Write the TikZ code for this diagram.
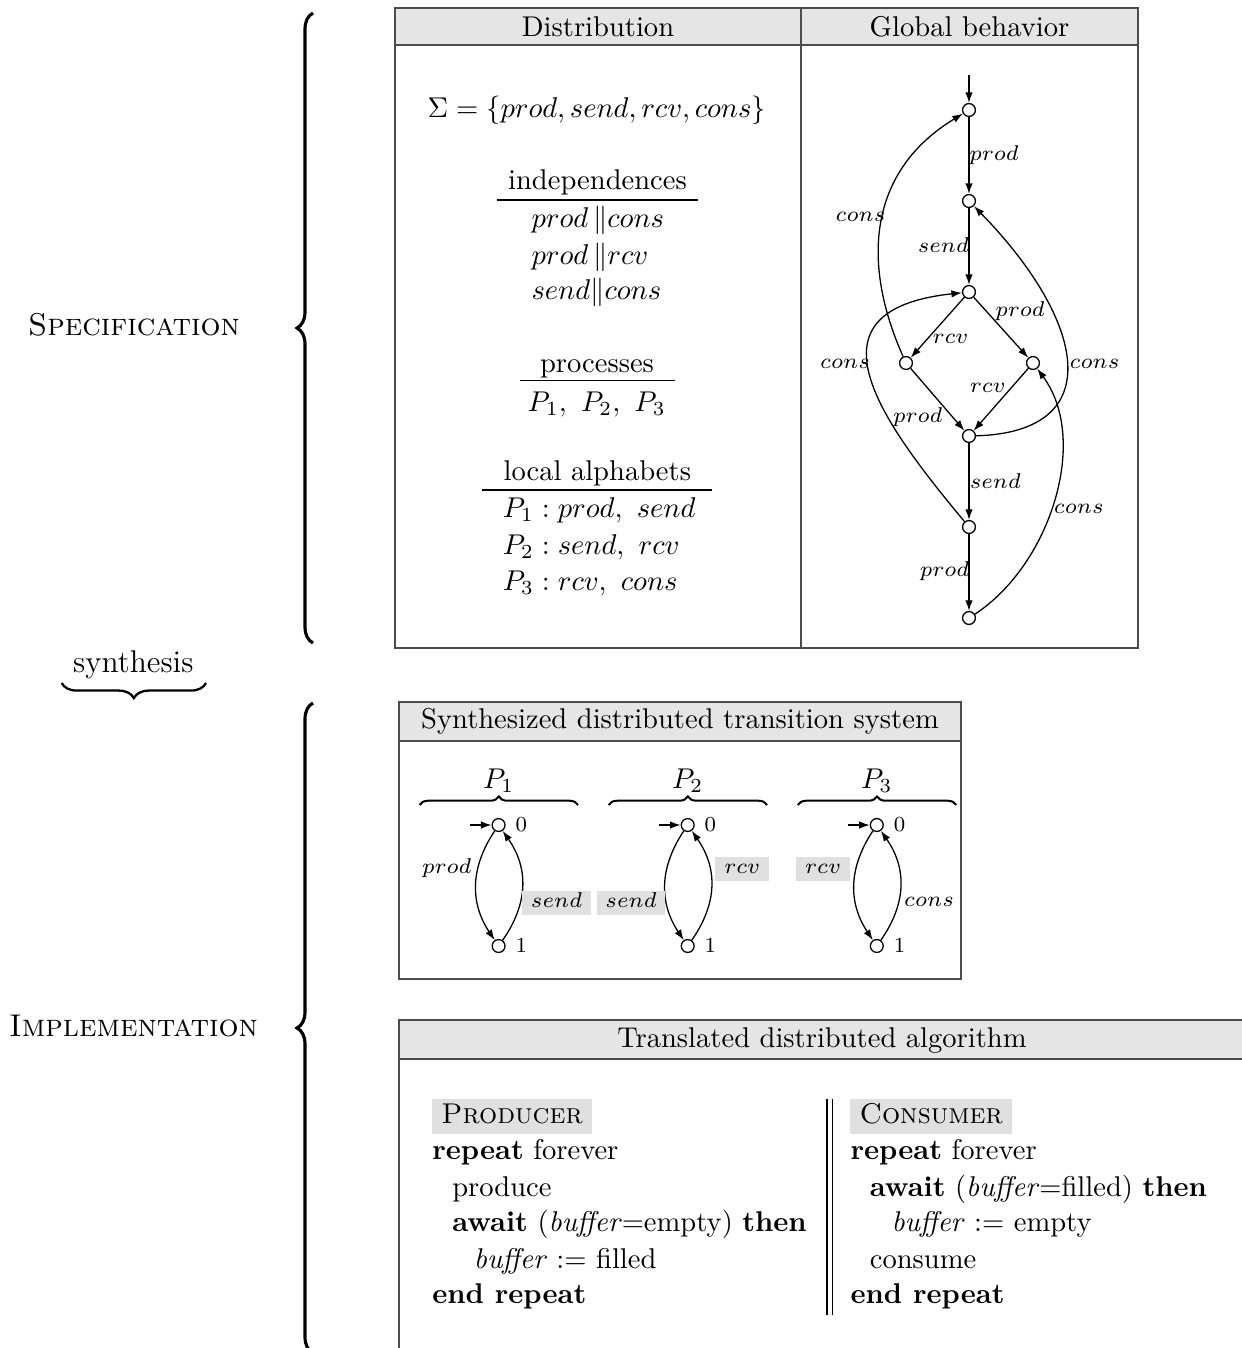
\RequirePackage{fix-cm}
\documentclass[tikz,border=0pt]{standalone}
\usetikzlibrary{decorations.pathreplacing,arrows.meta}
\begin{document}
\begin{tikzpicture}[x=0.35pt,y=-0.35pt,
  boxline/.style={draw=black!70,line width=0.5pt},
  headfill/.style={fill=black!10},
  txt/.style={inner sep=0pt,anchor=base},
  txtl/.style={inner sep=0pt,anchor=base west},
  sidetxt/.style={txt,font=\fontsize{11}{13}\selectfont},
  tabrule/.style={line width=0.4pt},
  stnode/.style={circle,draw,line width=0.45pt,minimum size=4.5pt,inner sep=0pt},
  lbl/.style={inner sep=0pt,anchor=base,font=\fontsize{7.5}{9}\selectfont},
  lblbox/.style={lbl,fill=black!12,inner xsep=3.1pt,inner ysep=0pt,text height=5.8pt,text depth=2.7pt},
  codebox/.style={txtl,fill=black!12,inner xsep=3.2pt,inner ysep=0pt,text height=8.4pt,text depth=3.85pt},
  trans/.style={line width=0.45pt,-{Latex[length=3.7pt,width=2.6pt]}},
  bigbrace/.style={decorate,decoration={brace,amplitude=5.6pt},line width=1.1pt},
  midbrace/.style={decorate,decoration={brace,amplitude=5.3pt},line width=0.8pt},
  smallbrace/.style={decorate,decoration={brace,amplitude=3pt},line width=0.7pt}]

\path[use as bounding box] (0,0) rectangle (1242,1348);
\clip (0,0) rectangle (1242,1348);

% ---------- left-hand labels and braces ----------
\node[sidetxt] (spec) at (134,335) {\textsc{Specification}};
\draw[bigbrace] (313,643) -- (313,13);
\node[sidetxt] (synth) at (133.3,672) {synthesis};
\draw[midbrace] (206,683) -- (61.7,683);
\node[sidetxt] (impl) at (133.5,1036) {\textsc{Implementation}};
\draw[bigbrace] (313,1353) -- (313,703);

% ---------- specification table ----------
\fill[headfill] (395,8) rectangle (1138,45);
\draw[boxline] (395,8) rectangle (1138,648);
\draw[boxline] (395,45) -- (1138,45);
\draw[boxline] (801,8) -- (801,648);
\node[txt] (hdist) at (598,36) {Distribution};
\node[txt] (hglob) at (969.5,36) {Global behavior};

% distribution column
\node[txt] (sigma) at (596.8,117) {$\Sigma=\{prod,send,rcv,cons\}$};
\node[txt] (indep) at (597.5,189) {independences};
\draw[tabrule] (496.7,200) -- (698.3,200);
\node[txtl] (ind1) at (531,227.7) {$prod\,\|cons$};
\node[txtl] (ind2) at (531,264) {$prod\,\|rcv$};
\node[txtl] (ind3) at (531,299) {$send\|cons$};
\node[txt] (procs) at (597,372.7) {processes};
\draw[tabrule] (520,380.7) -- (675,380.7);
\node[txt] (plist) at (596.7,411.7) {$P_1,\ P_2,\ P_3$};
\node[txt] (localph) at (597.3,480.7) {local alphabets};
\draw[tabrule] (482.3,490) -- (712.3,490);
\node[txtl] (loc1) at (502.3,517) {$P_1: prod,\ send$};
\node[txtl] (loc2) at (502.3,554) {$P_2: send,\ rcv$};
\node[txtl] (loc3) at (502.3,590.7) {$P_3: rcv,\ cons$};

% global behaviour graph
\node[stnode] (g0) at (969,110) {};
\node[stnode] (g1) at (969,201) {};
\node[stnode] (g2) at (969,292) {};
\node[stnode] (gL) at (906,363) {};
\node[stnode] (gR) at (1033,363) {};
\node[stnode] (g3) at (969,436) {};
\node[stnode] (g4) at (969,527) {};
\node[stnode] (g5) at (969,618) {};
\coordinate (gin) at (969,75);
\draw[trans] (gin) -- (g0);
\draw[trans] (g0) -- (g1);
\draw[trans] (g1) -- (g2);
\draw[trans] (g2) -- (gL);
\draw[trans] (g2) -- (gR);
\draw[trans] (gL) -- (g3);
\draw[trans] (gR) -- (g3);
\draw[trans] (g3) -- (g4);
\draw[trans] (g4) -- (g5);
\draw[trans] (gL) .. controls (860,260) and (870,170) .. (g0);
\draw[trans] (g3) .. controls (1110,432) and (1085,320) .. (g1);
\draw[trans] (g4) .. controls (880,420) and (800,310) .. (g2);
\draw[trans] (g5) .. controls (1050,565) and (1090,440) .. (gR);

\node[lbl] (l01) at (994,160.7) {$prod$};
\node[lbl] (lL0) at (860.5,221.7) {$cons$};
\node[lbl] (l12) at (943.3,252.7) {$send$};
\node[lbl] (l2R) at (1020,316) {$prod$};
\node[lbl] (l2L) at (950.5,343.3) {$rcv$};
\node[lbl] (l42) at (845,368.3) {$cons$};
\node[lbl] (l31) at (1094.5,368.3) {$cons$};
\node[lbl] (lR3) at (987.8,392.7) {$rcv$};
\node[lbl] (lL3) at (917.8,422.7) {$prod$};
\node[lbl] (l34) at (995.3,488.3) {$send$};
\node[lbl] (l5R) at (1078.8,513.3) {$cons$};
\node[lbl] (l45) at (944.5,576.7) {$prod$};

% ---------- synthesized transition system ----------
\fill[headfill] (399,702) rectangle (961,741);
\draw[boxline] (399,702) rectangle (961,979);
\draw[boxline] (399,741) -- (961,741);
\node[txt] (hsyn) at (680,728.3) {Synthesized distributed transition system};

\foreach \i/\cx in {1/498.6,2/687.7,3/876.8} {
  \node[stnode] (st\i-0) at (\cx,825) {};
  \node[stnode] (st\i-1) at (\cx,946) {};
  \node[lbl,anchor=base west] (nm\i-0) at ({\cx+16.4},831.7) {0};
  \node[lbl,anchor=base west] (nm\i-1) at ({\cx+16.4},952.7) {1};
  \coordinate (init\i) at ({\cx-29.1},825);
  \draw[trans] (init\i) -- (st\i-0);
  \draw[trans] (st\i-0) .. controls ({\cx-28.6},868) and ({\cx-28.6},903) .. (st\i-1);
  \draw[trans] (st\i-1) .. controls ({\cx+30},903) and ({\cx+30},868) .. (st\i-0);
  \draw[smallbrace] ({\cx-79},805) -- ({\cx+79.4},805);
  \node[txt] (proc\i) at (\cx,788) {$P_{\i}$};
}
\node[lbl] (p1prod) at (446.8,873.3) {$prod$};
\node[lblbox] (p1send) at (556.5,907.3) {$send$};
\node[lblbox] (p2send) at (631,907.3) {$send$};
\node[lblbox] (p2rcv) at (742.3,873.3) {$rcv$};
\node[lblbox] (p3rcv) at (823.2,873.3) {$rcv$};
\node[lbl] (p3cons) at (929,906.7) {$cons$};

% ---------- translated algorithm ----------
\fill[headfill] (399,1020) rectangle (1245,1059);
\draw[boxline] (399,1400) -- (399,1020) -- (1245,1020) -- (1245,1400);
\draw[boxline] (399,1059) -- (1245,1059);
\node[txt] (htra) at (822,1047) {Translated distributed algorithm};

\node[codebox] (prodhead) at (431.7,1123) {\textsc{Producer}};
\node[txtl] (pr1) at (431.7,1159) {\textbf{repeat} forever};
\node[txtl] (pr2) at (451.7,1196) {produce};
\node[txtl] (pr3) at (451.7,1231.7) {\textbf{await} (\textit{buffer}=empty) \textbf{then}};
\node[txtl] (pr4) at (473.3,1268) {\textit{buffer} $:=$ filled};
\node[txtl] (pr5) at (431.7,1303) {\textbf{end repeat}};

\draw[tabrule] (827,1099) -- (827,1315);
\draw[tabrule] (832.6,1099) -- (832.6,1315);

\node[codebox] (conhead) at (849.9,1123) {\textsc{Consumer}};
\node[txtl] (co1) at (850,1159) {\textbf{repeat} forever};
\node[txtl] (co2) at (869.3,1196) {\textbf{await} (\textit{buffer}=filled) \textbf{then}};
\node[txtl] (co3) at (891,1231.7) {\textit{buffer} $:=$ empty};
\node[txtl] (co4) at (869.3,1268) {consume};
\node[txtl] (co5) at (850,1303) {\textbf{end repeat}};
\end{tikzpicture}
\end{document}
